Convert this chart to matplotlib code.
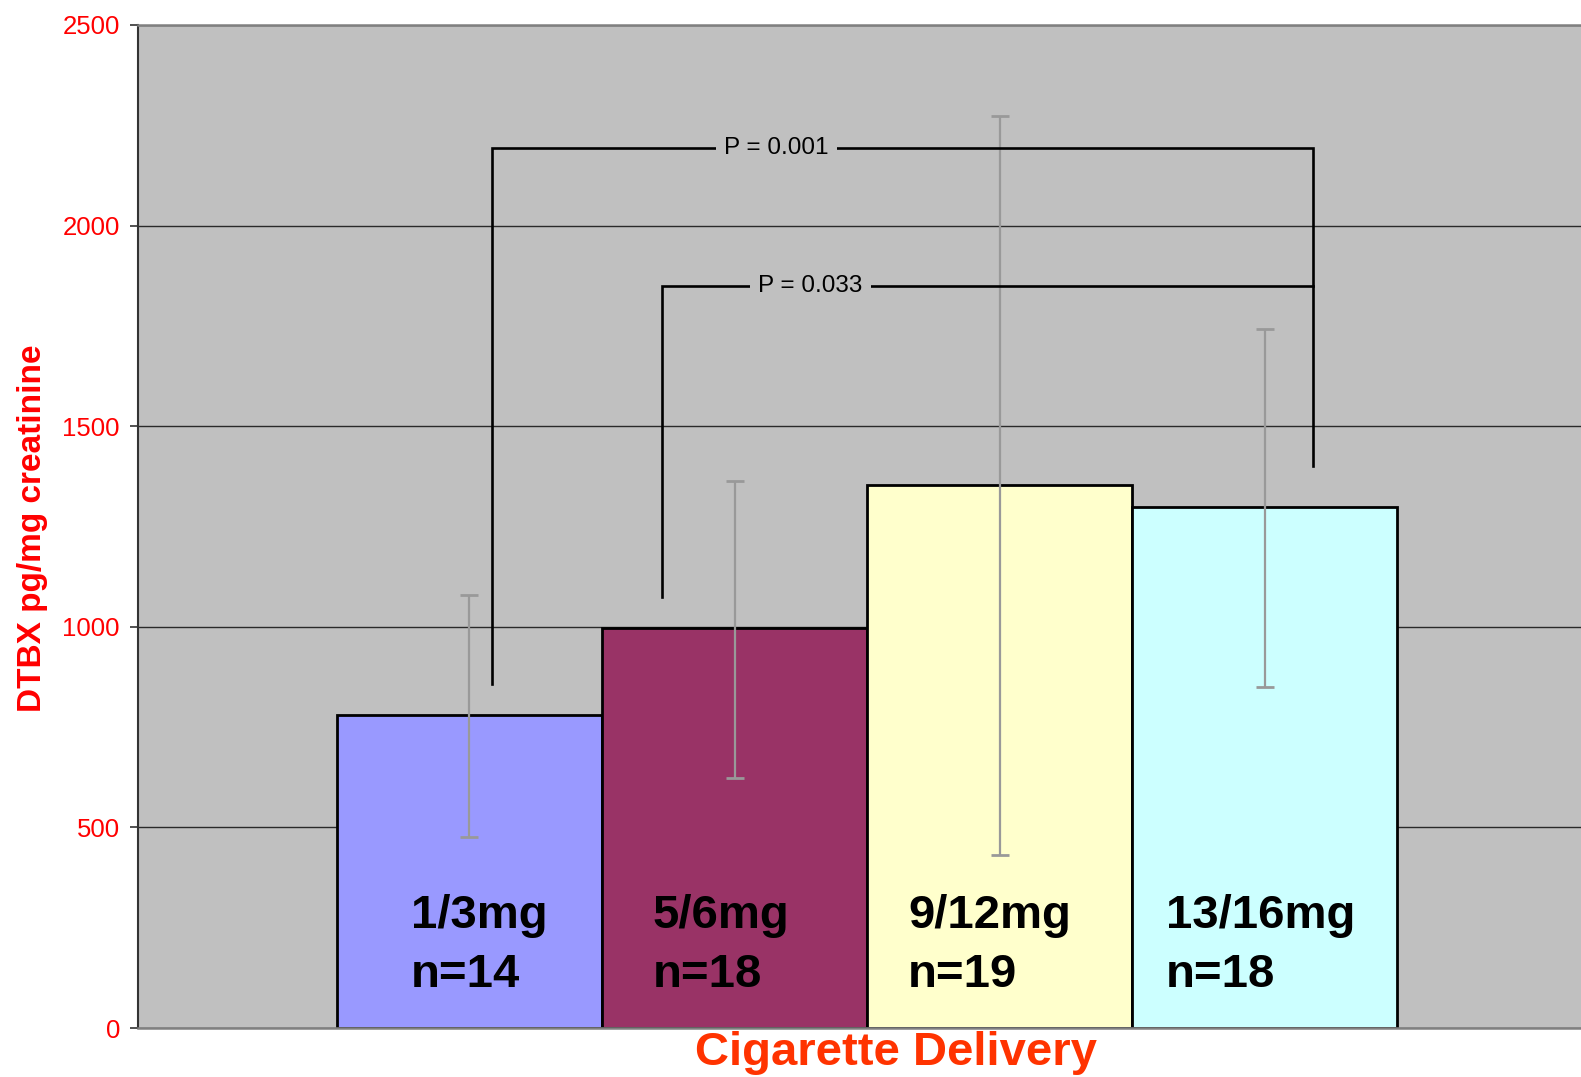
import matplotlib.pyplot as plt

plt.rcParams['font.family'] = ['Liberation Sans', 'DejaVu Sans']

# data
categories = ["1/3mg", "5/6mg", "9/12mg", "13/16mg"]
counts = ["n=14", "n=18", "n=19", "n=18"]
means = [780, 996, 1353, 1299]
err_low = [477, 622, 430, 849]
err_high = [1079, 1363, 2273, 1742]
p_labels = ["P = 0.001", "P = 0.033"]
p_heights = [2193, 1850]
colors = ["#9999FF", "#993366", "#FFFFCC", "#CCFFFF"]

fig = plt.figure(figsize=(15.81, 10.77), dpi=100)
ax = fig.add_axes([138 / 1581, 49 / 1077, 1 - 138 / 1581, 1003 / 1077])
ax.set_facecolor("#C0C0C0")

x = list(range(len(categories)))
ax.bar(x, means, width=1.0, color=colors, edgecolor="black", linewidth=2.0, zorder=2)

yerr = [[m - lo for m, lo in zip(means, err_low)],
        [hi - m for m, hi in zip(means, err_high)]]
ax.errorbar(x, means, yerr=yerr, fmt="none", ecolor="#999999",
            elinewidth=1.6, capsize=6.5, capthick=2.0, zorder=3)

# labels inside bars
label_dx = [-0.222, -0.31, -0.346, -0.373]
for i, (cat, n) in enumerate(zip(categories, counts)):
    ax.text(i + label_dx[i], 249, cat, fontsize=34, fontweight="bold",
            ha="left", va="baseline", zorder=4)
    ax.text(i + label_dx[i], 102, n, fontsize=34, fontweight="bold",
            ha="left", va="baseline", zorder=4)

# significance brackets
right_x = 3.18
ax.plot([0.085, 0.085, right_x, right_x], [858, p_heights[0], p_heights[0], 1401],
        color="black", lw=1.9, zorder=3, solid_joinstyle="miter")
ax.plot([0.728, 0.728, right_x], [1074, p_heights[1], p_heights[1]],
        color="black", lw=1.9, zorder=3, solid_joinstyle="miter")
for px, txt, h in zip([1.158, 1.285], p_labels, p_heights):
    ax.text(px, h, txt, fontsize=17.5, ha="center", va="center", zorder=4,
            bbox=dict(facecolor="#C0C0C0", edgecolor="none", pad=6))

ax.set_xlim(-1.2497, 4.192)
ax.set_ylim(0, 2500)
ax.set_yticks(range(0, 2501, 500))
ax.set_xticks([])
ax.yaxis.grid(True, color="#2a2a2a", lw=1.0)
ax.set_axisbelow(True)
ax.tick_params(axis="y", colors="#333333", labelcolor="red", labelsize=18.5,
               length=6, width=1.2, pad=7)

for s in ["top", "bottom"]:
    ax.spines[s].set_color("#808080")
    ax.spines[s].set_linewidth(1.8)
ax.spines["left"].set_color("#333333")
ax.spines["left"].set_linewidth(1.5)
ax.spines["right"].set_visible(False)

fig.text(33 / 1581, 1 - 528 / 1077, "DTBX pg/mg creatinine",
         rotation=90, fontsize=24, fontweight="bold", color="red",
         ha="center", va="center")
fig.text(896 / 1581, 12 / 1077, "Cigarette Delivery", fontsize=34,
         fontweight="bold", color="#FF3300", ha="center", va="baseline")

fig.savefig("out.png", dpi=100)
